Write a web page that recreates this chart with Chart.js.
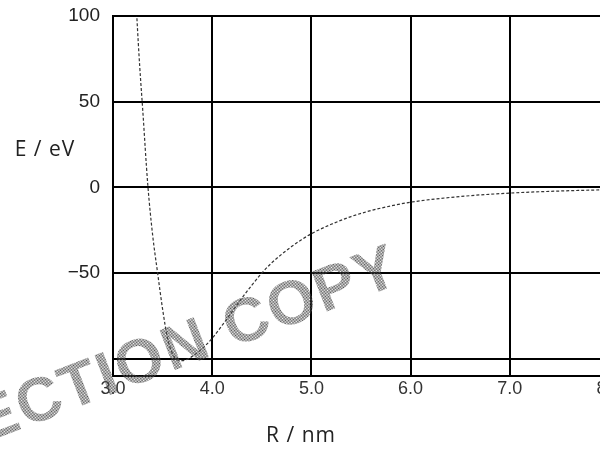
<!DOCTYPE html>
<html>
<head>
<meta charset="utf-8">
<script src="https://cdn.jsdelivr.net/npm/chart.js@4/dist/chart.umd.min.js"></script>
<style>
  html, body { margin: 0; padding: 0; background: #fff; overflow: hidden; }
  #wrap { position: relative; width: 640px; height: 449px; }
</style>
</head>
<body>
<div id="wrap"><canvas id="c"></canvas></div>
<script>
// Interatomic potential energy E (eV) against separation R (nm)
const separationR = [3.22, 3.24, 3.27, 3.30, 3.35, 3.40, 3.45, 3.50, 3.55, 3.60, 3.65, 3.70, 3.75, 3.80, 3.90, 4.00, 4.10, 4.20, 4.30, 4.40, 4.50, 4.60, 4.70, 4.80, 4.90, 5.00, 5.20, 5.40, 5.60, 5.80, 6.00, 6.50, 7.00, 7.50, 8.00];
const energyE    = [125, 100, 70, 45, 2, -28, -50, -71, -88, -97, -100.5, -101, -100.2, -98.5, -94, -88, -80.5, -72.5, -64.5, -57, -50, -44, -39, -34.5, -30.5, -27, -21.5, -17, -13.5, -10.8, -8.6, -5.3, -3.3, -2.1, -1.3];

const xTicks = [3.0, 4.0, 5.0, 6.0, 7.0, 8.0];
const yTicks = [-100, -50, 0, 50, 100];
const yLabelHidden = [-100];

const xTitle = 'R / nm';
const yTitle = 'E / eV';
const stampText = 'INSPECTION COPY';

const points = separationR.map((r, i) => ({ x: r, y: energyE[i] }));

// Axis titles and the diagonal stamp, drawn on top of the plot
const overlay = {
  id: 'overlay',
  afterDraw(chart) {
    const { ctx } = chart;
    ctx.save();
    ctx.fillStyle = '#222';
    ctx.textAlign = 'center';
    ctx.textBaseline = 'middle';
    ctx.font = '21px "Open Sans", "Liberation Sans", sans-serif';
    ctx.letterSpacing = '1px';
    ctx.fillText(yTitle, 45, 150);
    ctx.fillText(xTitle, 301, 436);

    // halftone stamp
    const pc = document.createElement('canvas');
    pc.width = 2; pc.height = 2;
    const p = pc.getContext('2d');
    p.fillStyle = '#4a4a4a';
    p.fillRect(0, 0, 1, 1);
    p.fillRect(1, 1, 1, 1);
    ctx.translate(404, 282);
    ctx.rotate(-21 * Math.PI / 180);
    ctx.font = 'bold 62px "Liberation Sans", sans-serif';
    ctx.letterSpacing = '2px';
    ctx.textAlign = 'right';
    ctx.textBaseline = 'alphabetic';
    ctx.fillStyle = ctx.createPattern(pc, 'repeat');
    ctx.fillText(stampText, 0, 0);
    ctx.restore();
  }
};

new Chart(document.getElementById('c'), {
  type: 'line',
  data: {
    datasets: [{
      data: points,
      borderColor: '#333',
      borderWidth: 1.2,
      borderDash: [3, 2],
      pointRadius: 0,
      cubicInterpolationMode: 'monotone',
      fill: false
    }]
  },
  options: {
    responsive: true,
    maintainAspectRatio: false,
    animation: false,
    events: [],
    layout: { padding: { left: 0, top: 16, right: 31, bottom: 0 } },
    plugins: { legend: { display: false }, tooltip: { enabled: false } },
    scales: {
      x: {
        type: 'linear',
        min: 3.0,
        max: 8.0,
        afterFit(s) { s.height = 73; s.paddingLeft = 0; s.paddingRight = 0; },
        afterBuildTicks(s) { s.ticks = xTicks.map(v => ({ value: v })); },
        grid: { color: '#000', lineWidth: 2, drawTicks: false },
        border: { color: '#000', width: 2 },
        ticks: {
          padding: 2,
          color: '#333',
          font: { family: '"Liberation Sans", Arial, sans-serif', size: 18 },
          callback: v => Number(v).toFixed(1)
        }
      },
      y: {
        type: 'linear',
        min: -110,
        max: 100,
        afterFit(s) { s.width = 113; s.paddingTop = 0; s.paddingBottom = 0; },
        afterBuildTicks(s) { s.ticks = yTicks.map(v => ({ value: v })); },
        grid: { color: '#000', lineWidth: 2, drawTicks: false },
        border: { color: '#000', width: 2 },
        ticks: {
          padding: 13,
          color: '#222',
          font: { family: '"Liberation Sans", Arial, sans-serif', size: 19 },
          callback: v => yLabelHidden.includes(v) ? '' : (v < 0 ? '\u2212' + Math.abs(v) : String(v))
        }
      }
    }
  },
  plugins: [overlay]
});
</script>
</body>
</html>
